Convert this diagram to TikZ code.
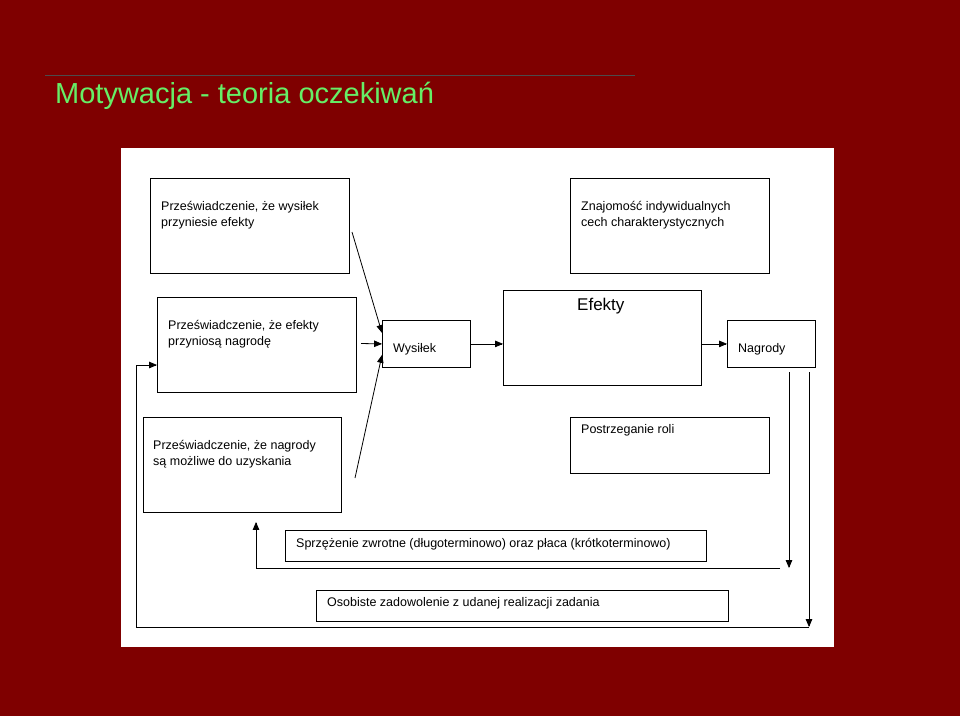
\documentclass[tikz,border=0pt]{standalone}
\usepackage{fontspec}
\setmainfont{Liberation Sans}
\usetikzlibrary{positioning}
\usetikzlibrary{arrows}
\definecolor{bordo}{HTML}{7F0000}
\definecolor{titlegreen}{HTML}{66EE66}
\tikzset{>=triangle 45}
\tikzset{box/.style={draw, thick, anchor=north west, inner sep=0pt}}
\tikzset{txt/.style={anchor=north west, align=left, inner sep=0pt, font=\fontsize{12.5}{16}\selectfont}}
\tikzset{ln/.style={thick}}

\begin{document}
\begin{tikzpicture}[x=1pt, y=-1pt]
    \fill[bordo] (0,0) rectangle (960,716);
    \draw[gray!60!black] (45,75) -- (635,75);
    \node[anchor=west, inner sep=0pt, text=titlegreen, font=\fontsize{29}{34}\selectfont] (title) at (55,96) {Motywacja - teoria oczekiwań};
    \fill[white] (121,148) rectangle (834,647);

    \node[box, minimum width=199pt, minimum height=95pt] (A) at (150,178) {};
    \node[txt] (At) at (161,201) {Przeświadczenie, że wysiłek\\przyniesie efekty};
    \node[box, minimum width=199pt, minimum height=95pt] (Z) at (570,178) {};
    \node[txt] (Zt) at (581,201) {Znajomość indywidualnych\\cech charakterystycznych};
    \node[box, minimum width=199pt, minimum height=95pt] (B) at (157,297) {};
    \node[txt] (Bt) at (168,320) {Przeświadczenie, że efekty\\przyniosą nagrodę};
    \node[box, minimum width=88pt, minimum height=47pt] (W) at (382,320) {};
    \node[txt] (Wt) at (393,343) {Wysiłek};
    \node[box, minimum width=198pt, minimum height=95pt] (E) at (503,290) {};
    \node[txt, font=\fontsize{17}{20}\selectfont] (Et) at (577,298) {Efekty};
    \node[box, minimum width=88pt, minimum height=47pt] (N) at (727,320) {};
    \node[txt] (Nt) at (738,343) {Nagrody};
    \node[box, minimum width=198pt, minimum height=95pt] (C) at (143,417) {};
    \node[txt] (Ct) at (153,440) {Przeświadczenie, że nagrody\\są możliwe do uzyskania};
    \node[box, minimum width=199pt, minimum height=56pt] (P) at (570,417) {};
    \node[txt] (Pt) at (581,424) {Postrzeganie roli};
    \node[box, minimum width=421pt, minimum height=31pt] (S) at (285,530) {};
    \node[txt] (St) at (296,538) {Sprzężenie zwrotne (długoterminowo) oraz płaca (krótkoterminowo)};
    \node[box, minimum width=412pt, minimum height=31pt] (O) at (316,590) {};
    \node[txt] (Ot) at (327,597) {Osobiste zadowolenie z udanej realizacji zadania};

    \coordinate (a1) at (352,232);
    \coordinate (b1) at (361,343.5);
    \coordinate (c1) at (355,478);
    \coordinate (n1) at (789,372);
    \coordinate (n2) at (809,372);
    \coordinate (f0) at (780,568);
    \coordinate (f1) at (789,568);
    \coordinate (f2) at (256,568);
    \coordinate (f3) at (256,522);
    \coordinate (g1) at (809,627);
    \coordinate (g2) at (136,627);
    \coordinate (g3) at (136,365);

    \draw[ln,->] (a1) -- ([yshift=11pt]W.west);
    \draw[ln,->] (b1) -- (W.west);
    \draw[ln,->] (c1) -- ([yshift=-11pt]W.west);
    \draw[ln,->] (W.east) -- (W.east -| E.west);
    \draw[ln,->] (W.east -| E.east) -- (N.west);
    \draw[ln,->] (n1) -- (f1);
    \draw[ln,->] (f0) -- (f2) -- (f3);
    \draw[ln,->] (n2) -- (g1);
    \draw[ln,->] (g1) -- (g2) -- (g3) -- (B.west |- g3);
\end{tikzpicture}
\end{document}
